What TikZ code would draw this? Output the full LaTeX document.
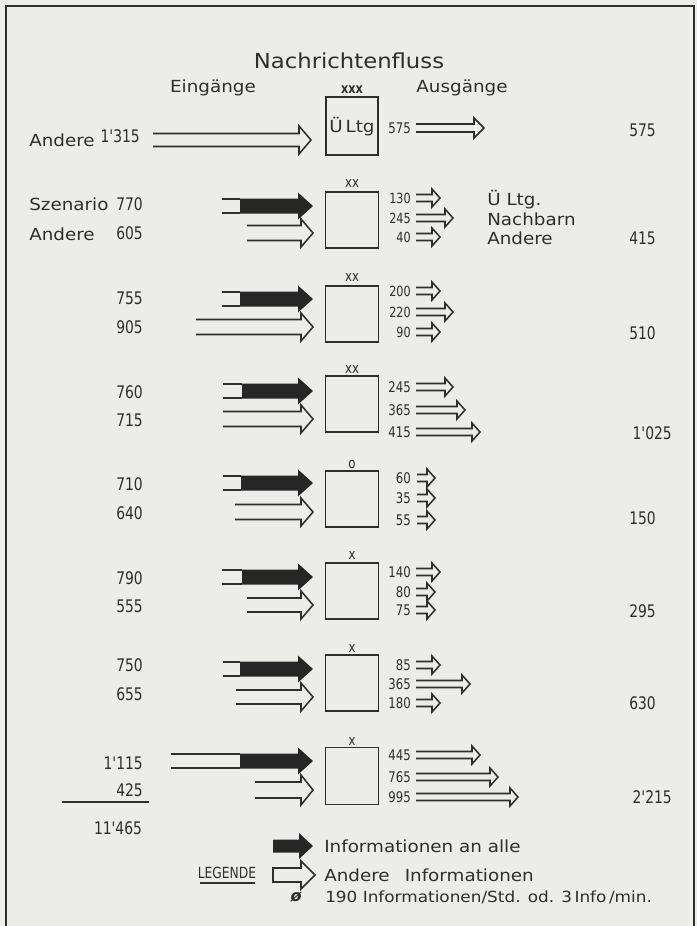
\documentclass[tikz,border=0pt]{standalone}
\usepackage{fontspec}
\setmainfont{DejaVu Sans}
\newfontfamily\wf[FakeStretch=1.1]{DejaVu Sans}
\newfontfamily\nf[FakeStretch=0.8]{DejaVu Sans}
\definecolor{paper}{HTML}{ECECE8}
\definecolor{inkc}{HTML}{2E2E2E}
\definecolor{fillc}{HTML}{262626}
\tikzset{
  ink/.style={draw=inkc, line width=1.15pt, line join=miter},
  word/.style={font=\wf\fontsize{12.5}{14}\selectfont, text=inkc, inner sep=0pt},
  num/.style={font=\nf\fontsize{13}{15}\selectfont, text=inkc, inner sep=0pt},
  snum/.style={font=\nf\fontsize{10.5}{12}\selectfont, text=inkc, inner sep=0pt},
  mnum/.style={font=\nf\fontsize{11}{13}\selectfont, text=inkc, inner sep=0pt},
  boxmark/.style={font=\nf\fontsize{11}{12}\selectfont, text=inkc, inner sep=0pt},
  boxnode/.style={draw=inkc, line width=1.15pt, minimum width=39.75pt, minimum height=42pt, inner sep=0pt},
}
% filled arrow: #1 centre y, #2 tail start x, #3 black start x
\newcommand\filarr[3]{%
  \draw[ink] (#2,#1-7) -- (#3,#1-7) (#2,#1+7) -- (#3,#1+7);
  \fill[fillc] (#3,#1-7.5) -- (298,#1-7.5) -- (298,#1-13.5) -- (313,#1) -- (298,#1+13.5) -- (298,#1+7.5) -- (#3,#1+7.5) -- cycle;
}
% hollow arrow: #1 y, #2 start x, #3 tip x, #4 half shaft, #5 half head, #6 head length
\newcommand\holarr[6]{%
  \draw[ink] (#2,#1-#4) -- ({#3-#6},#1-#4) -- ({#3-#6},#1-#5) -- (#3,#1) -- ({#3-#6},#1+#5) -- ({#3-#6},#1+#4) -- (#2,#1+#4);
}
\newcommand\outarr[3]{\holarr{#1}{#2}{#3}{3.5}{9}{8}}
\begin{document}
\begin{tikzpicture}[x=0.75pt,y=-0.75pt]
\fill[paper] (0,0) rectangle (697,926);
\useasboundingbox (0,0) rectangle (697,926);
\draw[draw=inkc, line width=1pt] (6,926) -- (6,6) -- (694,6) -- (694,926);

% headings
\node[word, font=\wf\fontsize{15.5}{18}\selectfont] (title) at (349,61) {Nachrichtenfluss};
\node[word] (ein) at (213,88) {Eingänge};
\node[word] (aus) at (462,88) {Ausgänge};

% ---- row 1
\node[boxnode, minimum height=43.5pt, minimum width=39pt] (b1) at (352,126) {};
\node[boxmark, font=\nf\bfseries\fontsize{10.5}{12}\selectfont] (m1) at (352,90) {xxx};
\node[word] (u1) at (352,127) {Ü\,Ltg};
\node[word, anchor=west] (l1a) at (29,140) {Andere};
\node[num, anchor=east] (l1b) at (140,136) {1'315};
\holarr{140}{153}{311}{6.5}{14}{12}
\node[mnum, anchor=east] (o1) at (411,128) {575};
\holarr{128}{416}{484}{4}{10}{10}
\node[num, anchor=east] (r1) at (656,130) {575};

% ---- row 2
\node[boxnode] (b2) at (352,220) {};
\node[boxmark] (m2) at (352,183) {xx};
\node[word, anchor=west] (l2a) at (29,204) {Szenario};
\node[num, anchor=east] (l2b) at (143,204) {770};
\node[word, anchor=west] (l2c) at (29,234) {Andere};
\node[num, anchor=east] (l2d) at (143,233) {605};
\holarr{233}{247}{313}{7.5}{14}{12}
\filarr{206}{222}{240}
\node[snum, anchor=east] (o2a) at (411,198) {130};
\node[snum, anchor=east] (o2b) at (411,218) {245};
\node[snum, anchor=east] (o2c) at (411,237) {40};
\outarr{198}{416}{440}
\outarr{218}{416}{453}
\outarr{237}{416}{440}
\node[word, anchor=west] (r2a) at (487,200) {Ü Ltg.};
\node[word, anchor=west] (r2b) at (487,219) {Nachbarn};
\node[word, anchor=west] (r2c) at (487,238) {Andere};
\node[num, anchor=east] (r2d) at (656,238) {415};

% ---- row 3
\node[boxnode] (b3) at (352,314) {};
\node[boxmark] (m3) at (352,277) {xx};
\node[num, anchor=east] (l3a) at (143,298) {755};
\node[num, anchor=east] (l3b) at (143,327) {905};
\holarr{327}{196}{313}{7.5}{14}{12}
\filarr{299}{222}{240}
\node[snum, anchor=east] (o3a) at (411,291) {200};
\node[snum, anchor=east] (o3b) at (411,312) {220};
\node[snum, anchor=east] (o3c) at (411,332) {90};
\outarr{291}{416}{440}
\outarr{312}{416}{453}
\outarr{332}{416}{440}
\node[num, anchor=east] (r3) at (656,333) {510};

% ---- row 4
\node[boxnode] (b4) at (352,404) {};
\node[boxmark] (m4) at (352,369) {xx};
\node[num, anchor=east] (l4a) at (143,392) {760};
\node[num, anchor=east] (l4b) at (143,420) {715};
\holarr{419}{223}{313}{7.5}{14}{12}
\filarr{391}{223}{242}
\node[mnum, anchor=east] (o4a) at (411,387) {245};
\node[mnum, anchor=east] (o4b) at (411,410) {365};
\node[mnum, anchor=east] (o4c) at (411,432) {415};
\outarr{387}{416}{453}
\outarr{410}{416}{465}
\outarr{432}{416}{480}
\node[num, anchor=east] (r4) at (672,433) {1'025};

% ---- row 5
\node[boxnode] (b5) at (352,499) {};
\node[boxmark] (m5) at (352,464) {o};
\node[num, anchor=east] (l5a) at (143,484) {710};
\node[num, anchor=east] (l5b) at (143,513) {640};
\holarr{512}{235}{313}{7.5}{14}{12}
\filarr{483}{223}{241}
\node[mnum, anchor=east] (o5a) at (411,478) {60};
\node[mnum, anchor=east] (o5b) at (411,498) {35};
\node[mnum, anchor=east] (o5c) at (411,520) {55};
\outarr{478}{417}{435}
\outarr{498}{417}{435}
\outarr{520}{417}{435}
\node[num, anchor=east] (r5) at (656,518) {150};

% ---- row 6
\node[boxnode] (b6) at (352,591) {};
\node[boxmark] (m6) at (352,555) {x};
\node[num, anchor=east] (l6a) at (143,578) {790};
\node[num, anchor=east] (l6b) at (143,606) {555};
\holarr{605}{247}{313}{7}{14}{12}
\filarr{577}{222}{242}
\node[mnum, anchor=east] (o6a) at (411,572) {140};
\node[mnum, anchor=east] (o6b) at (411,592) {80};
\node[mnum, anchor=east] (o6c) at (411,610) {75};
\outarr{572}{416}{440}
\outarr{592}{416}{435}
\outarr{610}{416}{435}
\node[num, anchor=east] (r6) at (656,611) {295};

% ---- row 7
\node[boxnode] (b7) at (352,683) {};
\node[boxmark] (m7) at (352,648) {x};
\node[num, anchor=east] (l7a) at (143,665) {750};
\node[num, anchor=east] (l7b) at (143,694) {655};
\holarr{697}{236}{313}{7}{14}{12}
\filarr{669}{223}{240}
\node[mnum, anchor=east] (o7a) at (411,665) {85};
\node[mnum, anchor=east] (o7b) at (411,684) {365};
\node[mnum, anchor=east] (o7c) at (411,703) {180};
\outarr{665}{416}{440}
\outarr{684}{416}{470}
\outarr{703}{416}{440}
\node[num, anchor=east] (r7) at (656,703) {630};

% ---- row 8
\node[boxnode, minimum height=43pt] (b8) at (352,776) {};
\node[boxmark] (m8) at (352,741) {x};
\node[num, anchor=east] (l8a) at (143,763) {1'115};
\node[num, anchor=east] (l8b) at (143,790) {425};
\holarr{790}{255}{313}{8}{15}{12}
\filarr{761}{171}{240}
\node[mnum, anchor=east] (o8a) at (411,755) {445};
\node[mnum, anchor=east] (o8b) at (411,777) {765};
\node[mnum, anchor=east] (o8c) at (411,797) {995};
\outarr{755}{416}{480}
\outarr{777}{416}{498}
\outarr{797}{416}{518}
\node[num, anchor=east] (r8) at (672,797) {2'215};

% total
\coordinate (sumL) at (62,802);
\coordinate (sumR) at (149,802);
\draw[ink] (sumL) -- (sumR);
\node[num] (tot) at (118,828) {11'465};

% legend
\fill[fillc] (273,839.5) -- (299,839.5) -- (299,833) -- (313,846) -- (299,859) -- (299,852.5) -- (273,852.5) -- cycle;
\node[word, anchor=west] (lg1) at (324,846) {Informationen an alle};
\node[boxmark, font=\nf\fontsize{11.5}{13}\selectfont] (lgt) at (227,873) {LEGENDE};
\coordinate (ulL) at (200,883);
\coordinate (ulR) at (255,883);
\draw[ink, line width=1pt] (ulL) -- (ulR);
\draw[ink] (285,868) -- (273,868) -- (273,882) -- (301,882) -- (301,889) -- (315,875) -- (301,861) -- (301,868) -- cycle;
\node[word, anchor=west] (lg2) at (324,875) {Andere\hspace{0.9em}Informationen};
\node[word, font=\bfseries\itshape\fontsize{12}{14}\selectfont] (phi) at (296,897) {ø};
\node[word, anchor=west, font=\wf\fontsize{11.5}{14}\selectfont] (lg3) at (325,897) {190 Informationen/Std. od. 3\,Info\,/min.};
\end{tikzpicture}
\end{document}
